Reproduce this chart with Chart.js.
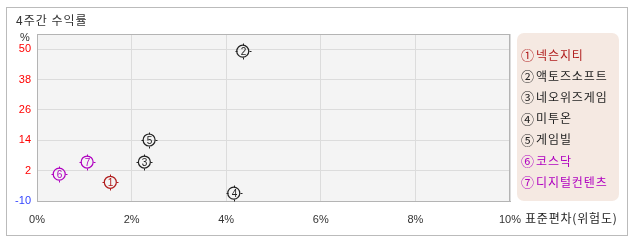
<!DOCTYPE html>
<html>
<head>
<meta charset="utf-8">
<script src="https://cdn.jsdelivr.net/npm/chart.js@4/dist/chart.umd.min.js"></script>
<style>
  html, body { margin: 0; padding: 0; background: #fff; }
</style>
</head>
<body>
<canvas id="riskChart" width="638" height="242"></canvas>
<script>
const names = ['넥슨지티', '액토즈소프트', '네오위즈게임', '미투온', '게임빌', '코스닥', '디지털컨텐츠'];
const marks = ['①', '②', '③', '④', '⑤', '⑥', '⑦'];
const stdDev = [1.55, 4.35, 2.27, 4.16, 2.37, 0.47, 1.06];
const returns = [-2.6, 49.2, 5.4, -6.9, 14.1, 0.6, 5.4];
const colors = ['#b01c1c', '#222222', '#222222', '#222222', '#222222', '#b000c0', '#b000c0'];
const xTicks = [0, 2, 4, 6, 8, 10];
const yTicks = [-10, 2, 14, 26, 38, 50];

const KR = '"Noto Sans CJK KR", "Noto Sans", sans-serif';
const NUM = '"Liberation Sans", "Noto Sans CJK KR", sans-serif';

const framePlugin = {
  id: 'frame',
  beforeDraw: (chart) => {
    const ctx = chart.ctx;
    const a = chart.chartArea;
    ctx.save();
    ctx.fillStyle = '#ffffff';
    ctx.fillRect(0, 0, chart.width, chart.height);
    ctx.strokeStyle = '#bbbbbb';
    ctx.lineWidth = 1;
    ctx.strokeRect(6.5, 7.5, 621, 228);
    ctx.fillStyle = '#f4f4f4';
    ctx.fillRect(a.left, a.top, a.right - a.left, a.bottom - a.top);

    ctx.fillStyle = '#333333';
    ctx.font = '12px ' + KR;
    ctx.letterSpacing = '1px';
    ctx.textBaseline = 'middle';
    ctx.textAlign = 'left';
    ctx.fillText('4주간 수익률', 16, 20);
    ctx.letterSpacing = '0px';
    ctx.font = '11px ' + NUM;
    ctx.textAlign = 'center';
    ctx.fillText('%', 25, 38);

    // legend box
    ctx.fillStyle = '#f5e9e2';
    ctx.beginPath();
    ctx.roundRect(517, 33, 102, 168, 7);
    ctx.fill();
    ctx.textAlign = 'left';
    names.forEach((n, i) => {
      const y = 55 + i * 21.2;
      ctx.fillStyle = colors[i];
      ctx.letterSpacing = '0px';
      ctx.font = '13px ' + KR;
      ctx.fillText(marks[i], 521, y);
      ctx.letterSpacing = '0.9px';
      ctx.font = '12px ' + KR;
      ctx.fillText(n, 536, y);
    });
    ctx.restore();
  },
  afterDraw: (chart) => {
    const ctx = chart.ctx;
    const a = chart.chartArea;
    ctx.save();
    ctx.strokeStyle = '#b4b4b4';
    ctx.lineWidth = 1;
    ctx.strokeRect(a.left + 0.5, a.top + 0.5, a.right - a.left - 1, a.bottom - a.top);

    ctx.fillStyle = '#222222';
    ctx.font = '12px ' + KR;
    ctx.letterSpacing = '0.8px';
    ctx.textBaseline = 'middle';
    ctx.textAlign = 'left';
    ctx.fillText('표준편차(위험도)', 525, 218);
    ctx.letterSpacing = '0px';

    // numbers and ticks on the markers
    const meta = chart.getDatasetMeta(0);
    meta.data.forEach((pt, i) => {
      const x = Math.round(pt.x) + 0.5, y = Math.round(pt.y) + 0.5;
      ctx.strokeStyle = colors[i];
      ctx.beginPath();
      ctx.moveTo(x, y - 6); ctx.lineTo(x, y - 8);
      ctx.moveTo(x, y + 6); ctx.lineTo(x, y + 8);
      ctx.moveTo(x - 6, y); ctx.lineTo(x - 8, y);
      ctx.moveTo(x + 6, y); ctx.lineTo(x + 8, y);
      ctx.stroke();
      ctx.fillStyle = colors[i];
      ctx.font = '10px ' + NUM;
      ctx.textAlign = 'center';
      ctx.fillText(String(i + 1), x, y + 0.5);
    });
    ctx.restore();
  }
};

const points = stdDev.map((x, i) => ({ x: x, y: returns[i] }));

new Chart(document.getElementById('riskChart').getContext('2d'), {
  type: 'scatter',
  data: {
    datasets: [{
      label: '4주간 수익률',
      data: points,
      pointStyle: 'circle',
      pointRadius: 6,
      pointHoverRadius: 6,
      pointBorderWidth: 1.2,
      pointBackgroundColor: 'rgba(0,0,0,0)',
      pointBorderColor: colors
    }]
  },
  options: {
    responsive: false,
    animation: false,
    devicePixelRatio: 1,
    layout: { padding: { left: 0, top: 34, right: 128, bottom: 0 } },
    plugins: {
      legend: { display: false },
      tooltip: { enabled: false }
    },
    scales: {
      x: {
        type: 'linear',
        min: 0,
        max: 10,
        afterBuildTicks: (scale) => { scale.ticks = xTicks.map(v => ({ value: v })); },
        afterFit: (scale) => { scale.height = 41; },
        grid: { color: '#dcdcdc', drawTicks: false },
        border: { color: '#b4b4b4' },
        ticks: {
          padding: 12,
          color: '#333333',
          font: { family: NUM, size: 11 },
          callback: v => v + '%'
        }
      },
      y: {
        type: 'linear',
        min: -10,
        max: 56,
        afterBuildTicks: (scale) => { scale.ticks = yTicks.map(v => ({ value: v })); },
        afterFit: (scale) => { scale.width = 37; },
        grid: { color: '#dcdcdc', drawTicks: false },
        border: { color: '#b4b4b4' },
        ticks: {
          padding: 6,
          font: { family: NUM, size: 11 },
          color: c => (c.tick && c.tick.value < 0) ? '#3344ff' : '#ff0000'
        }
      }
    }
  },
  plugins: [framePlugin]
});
</script>
</body>
</html>
